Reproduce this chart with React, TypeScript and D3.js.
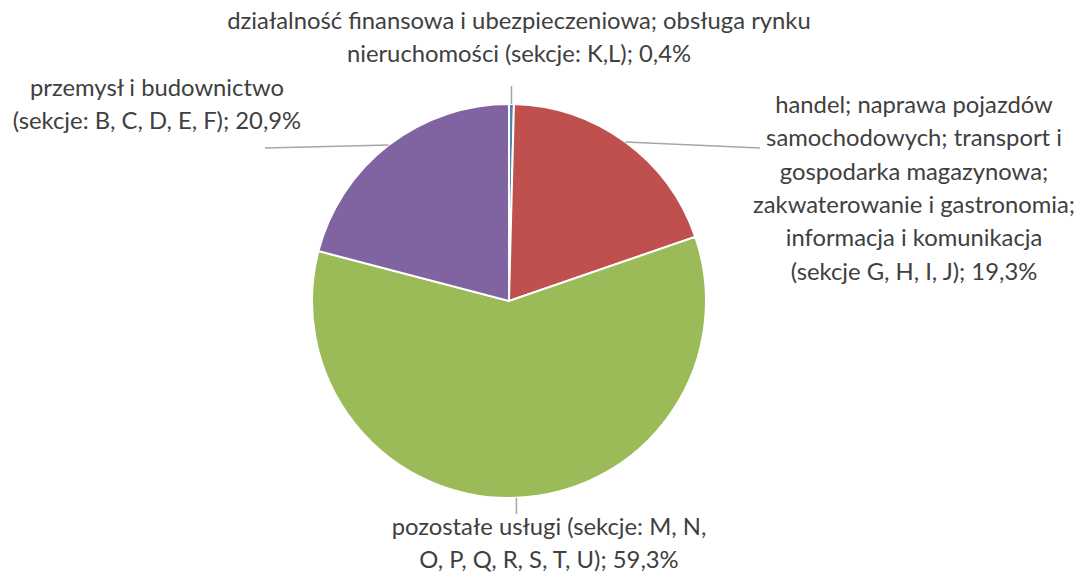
import * as d3 from "d3";

const sectors = [
  "działalność finansowa i ubezpieczeniowa; obsługa rynku nieruchomości (sekcje: K,L)",
  "handel; naprawa pojazdów samochodowych; transport i gospodarka magazynowa; zakwaterowanie i gastronomia; informacja i komunikacja (sekcje G, H, I, J)",
  "pozostałe usługi (sekcje: M, N, O, P, Q, R, S, T, U)",
  "przemysł i budownictwo (sekcje: B, C, D, E, F)",
];
const shares = [0.4, 19.3, 59.3, 20.9];
const labelLines = [
  ["działalność finansowa i ubezpieczeniowa; obsługa rynku", "nieruchomości (sekcje: K,L); 0,4%"],
  [
    "handel; naprawa pojazdów",
    "samochodowych; transport i",
    "gospodarka magazynowa;",
    "zakwaterowanie i gastronomia;",
    "informacja i komunikacja",
    "(sekcje G, H, I, J); 19,3%",
  ],
  ["pozostałe usługi (sekcje: M, N,", "O, P, Q, R, S, T, U); 59,3%"],
  ["przemysł i budownictwo", "(sekcje: B, C, D, E, F); 20,9%"],
];
const colors = ["#4F81BD", "#C0504D", "#9BBB59", "#8064A2"];

// label layout: text centre x, first baseline y, leader end point
const labelLayout = [
  { x: 519, y: 29, lx: 0, ly: 86, vertical: true },
  { x: 914, y: 113, lx: 760, ly: 148, vertical: false },
  { x: 549, y: 535, lx: 0, ly: 514, vertical: true },
  { x: 157, y: 96, lx: 265, ly: 148, vertical: false },
];

const width = 1089;
const height = 573;
const cx = 509;
const cy = 301;
const radius = 197;
const lineH = 33.3;

export default function App() {
  const pie = d3
    .pie<number>()
    .sort(null)
    .value((d) => d);
  const arcs = pie(shares);
  const arc = d3.arc<d3.PieArcDatum<number>>().innerRadius(0).outerRadius(radius);

  return (
    <svg
      width={width}
      height={height}
      style={{ position: "absolute", left: 0, top: 0, background: "#fff" }}
      fontFamily="Lato, 'Open Sans', sans-serif"
    >
      <g transform={`translate(${cx},${cy})`}>
        {arcs.map((a, i) => (
          <path key={sectors[i]} d={arc(a) ?? ""} fill={colors[i]} stroke="#fff" strokeWidth={2} />
        ))}
      </g>
      {arcs.map((a, i) => {
        const mid = (a.startAngle + a.endAngle) / 2;
        const px = cx + Math.sin(mid) * radius;
        const py = cy - Math.cos(mid) * radius;
        const L = labelLayout[i];
        const ex = L.vertical ? px : L.lx;
        return (
          <line
            key={"l" + i}
            x1={px}
            y1={py}
            x2={ex}
            y2={L.ly}
            stroke="#A6A6A6"
            strokeWidth={1.5}
          />
        );
      })}
      {labelLines.map((lines, i) => (
        <text
          key={"t" + i}
          x={labelLayout[i].x}
          y={labelLayout[i].y}
          textAnchor="middle"
          fontSize={23.8}
          fill="#404040"
        >
          {lines.map((s, j) => (
            <tspan key={j} x={labelLayout[i].x} y={labelLayout[i].y + j * lineH}>
              {s}
            </tspan>
          ))}
        </text>
      ))}
    </svg>
  );
}
